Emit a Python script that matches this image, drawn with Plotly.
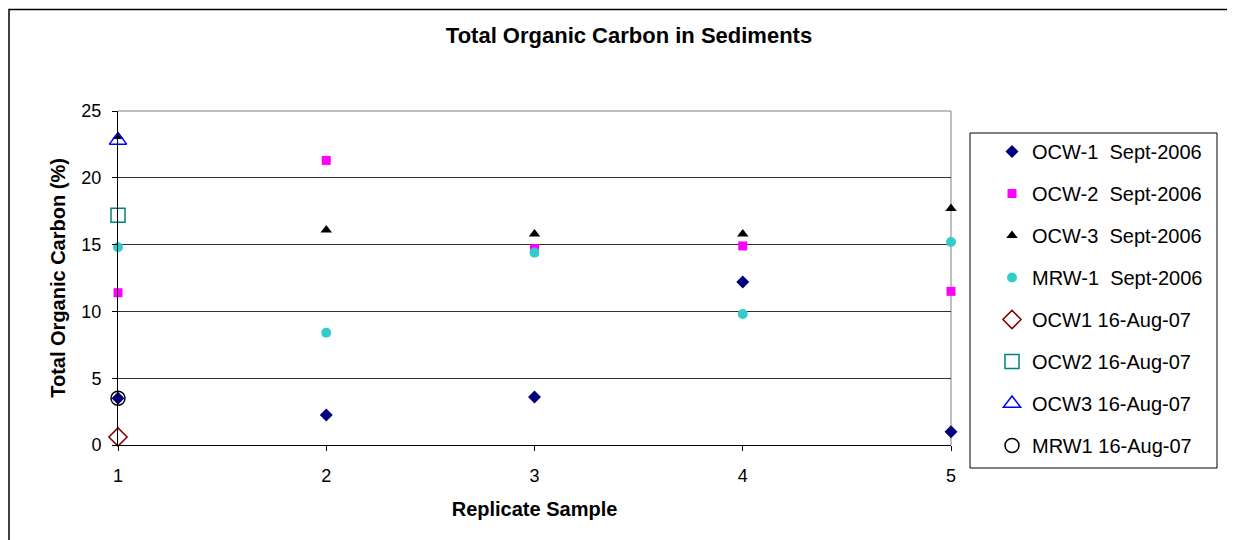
import plotly.graph_objects as go

samples = [1, 2, 3, 4, 5]
ocw1_2006 = [3.5, 2.25, 3.6, 12.2, 1.0]
ocw2_2006 = [11.4, 21.3, 14.7, 14.9, 11.5]
ocw3_2006 = [23.1, 16.1, 15.8, 15.8, 17.7]
mrw1_2006 = [14.8, 8.4, 14.4, 9.8, 15.2]
aug_sample = [1]
ocw1_2007 = [0.6]
ocw2_2007 = [17.2]
ocw3_2007 = [22.8]
mrw1_2007 = [3.5]

series = [
    ("OCW-1\u00a0 Sept-2006", samples, ocw1_2006, "diamond", "#000080", 10, 0),
    ("OCW-2\u00a0 Sept-2006", samples, ocw2_2006, "square", "#FF00FF", 9, 0),
    ("OCW-3\u00a0 Sept-2006", samples, ocw3_2006, "triangle-up", "#000000", 10, 0),
    ("MRW-1\u00a0 Sept-2006", samples, mrw1_2006, "circle", "#33CCCC", 10, 0),
    ("OCW1 16-Aug-07", aug_sample, ocw1_2007, "diamond-open", "#800000", 14, 1.5),
    ("OCW2 16-Aug-07", aug_sample, ocw2_2007, "square-open", "#008080", 14, 1.5),
    ("OCW3 16-Aug-07", aug_sample, ocw3_2007, "triangle-up-open", "#0000FF", 15, 1.5),
    ("MRW1 16-Aug-07", aug_sample, mrw1_2007, "circle-open", "#000000", 14, 1.5),
]

fig = go.Figure()
for i, (name, xs, ys, sym, col, size, lw) in enumerate(series):
    marker = dict(symbol=sym, color=col, size=size)
    if lw:
        marker["line"] = dict(color=col, width=lw)
    else:
        marker["line"] = dict(width=0)
    fig.add_trace(go.Scatter(
        x=xs, y=ys, mode="markers", name=name, marker=marker,
        cliponaxis=False, legendgroup=f"g{i}",
    ))

# page offset of 8px (body margin); plot area in page px: x 118..951, y 111..445
OFF = 8
W, H = 1235 - OFF, 540 - OFF
L, T = 118 - OFF, 111 - OFF
PW, PH = 833, 334


def px(xp):
    return (xp - 118) / PW


def py(yp):
    return (445 - yp) / PH


font = "Liberation Sans, Arial, sans-serif"
fig.update_layout(
    width=W, height=H,
    margin=dict(l=L, r=W - L - PW, t=T, b=H - T - PH),
    paper_bgcolor="white", plot_bgcolor="white",
    font=dict(family=font, size=18, color="black"),
    title=dict(text="<b>Total Organic Carbon in Sediments</b>", x=(629 - OFF) / W,
               xanchor="center", y=1 - (35 - OFF) / H, yanchor="middle",
               font=dict(size=22, family=font)),
    showlegend=True,
    legend=dict(x=px(992), y=py(132), xanchor="left", yanchor="top",
                traceorder="grouped", tracegroupgap=13, bgcolor="rgba(0,0,0,0)",
                font=dict(size=20, family=font), itemwidth=30, maxheight=1000),
    xaxis=dict(range=[1, 5], tickvals=samples, showgrid=False, zeroline=False,
               showline=True, linecolor="black", linewidth=1,
               ticks="outside", ticklen=5, tickcolor="black", ticklabelstandoff=9,
               title=dict(text="<b>Replicate Sample</b>", standoff=17, font=dict(size=20))),
    yaxis=dict(range=[0, 25], tickvals=[0, 5, 10, 15, 20, 25], showgrid=True,
               gridcolor="#333333", gridwidth=1, zeroline=False,
               showline=True, linecolor="black", linewidth=1,
               ticks="outside", ticklen=5, tickcolor="black", ticklabelstandoff=7,
               title=dict(text="<b>Total Organic Carbon (%)</b>", standoff=10, font=dict(size=20))),
    shapes=[
        dict(type="line", xref="paper", yref="paper", x0=1, x1=1, y0=0, y1=1,
             line=dict(color="#808080", width=1), layer="below"),
        dict(type="line", xref="paper", yref="paper", x0=0, x1=1, y0=1, y1=1,
             line=dict(color="#808080", width=1), layer="below"),
        dict(type="rect", xref="paper", yref="paper",
             x0=px(970), x1=px(1217), y0=py(468), y1=py(133),
             line=dict(color="black", width=1)),
        dict(type="rect", xref="paper", yref="paper",
             x0=px(9), x1=px(1245), y0=py(560), y1=py(9.5),
             line=dict(color="black", width=1.5)),
    ],
)

fig.write_html("out.html")
